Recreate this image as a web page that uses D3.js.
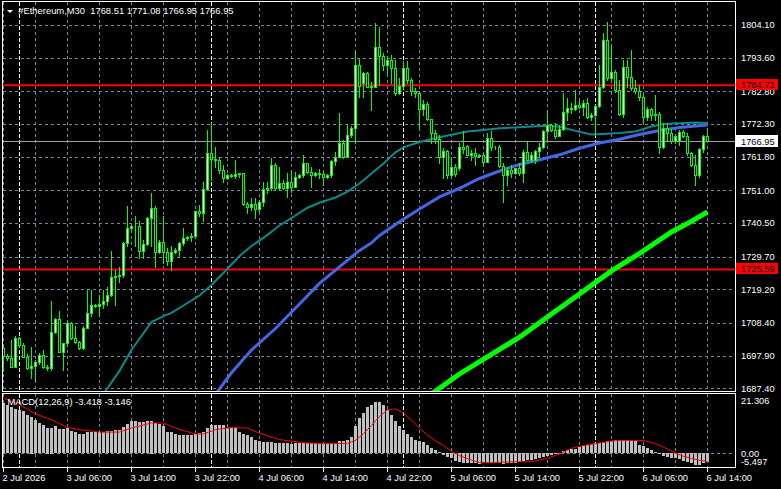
<!DOCTYPE html>
<html>
<head>
<meta charset="utf-8">
<script src="https://cdn.jsdelivr.net/npm/d3@7"></script>
<style>
html, body { margin: 0; padding: 0; background: #000; }
svg { display: block; }
text { font-family: "Liberation Sans", Arial, sans-serif; }
</style>
</head>
<body>
<svg id="chart" width="781" height="489"></svg>
<script>
// bar data, 30 minute bars from 2 Jul 22:00 to 6 Jul 14:00
let opens = [1700.3,1697.8,1697.1,1694.4,1703.5,1701.4,1697.6,1693.9,1694.6,1696.0,1698.1,1694.4,1693.9,1705.6,1709.6,1699.2,1701.9,1708.3,1703.5,1702.4,
  1700.3,1706.9,1711.7,1714.2,1713.9,1714.5,1715.3,1717.4,1723.3,1723.6,1723.8,1734.0,1739.0,1739.4,1739.6,1731.6,1733.8,1742.0,1745.3,1731.1,
  1734.5,1731.1,1728.4,1731.3,1731.9,1734.0,1735.6,1735.9,1736.4,1744.2,1743.6,1751.4,1763.1,1761.0,1760.6,1757.6,1754.9,1756.0,1755.7,1756.3,
  1756.5,1746.6,1745.6,1746.6,1745.0,1747.4,1751.4,1751.7,1759.2,1751.7,1753.5,1751.9,1753.8,1752.2,1755.2,1756.0,1759.7,1757.0,1756.0,1756.7,
  1756.3,1755.4,1756.0,1760.5,1761.8,1766.1,1761.8,1768.8,1771.0,1791.3,1785.4,1788.6,1784.3,1784.3,1797.0,1794.0,1791.3,1792.9,1790.2,1782.2,
  1784.6,1790.2,1786.5,1783.0,1782.2,1777.1,1778.7,1773.8,1769.3,1767.4,1761.8,1763.7,1755.9,1758.6,1758.1,1765.0,1765.2,1762.4,1763.1,1762.0,
  1762.4,1760.2,1767.7,1764.8,1765.0,1758.8,1755.9,1757.6,1756.5,1758.1,1756.7,1763.4,1760.8,1760.8,1763.7,1764.8,1769.9,1772.0,1770.4,1768.5,
  1770.6,1776.3,1777.4,1777.0,1778.4,1777.9,1779.0,1774.5,1775.2,1778.1,1784.1,1799.3,1787.0,1789.1,1783.2,1775.4,1790.7,1787.5,1783.8,1783.0,
  1781.1,1774.7,1777.0,1775.2,1775.5,1765.0,1771.0,1769.3,1766.7,1766.7,1769.6,1768.3,1762.9,1759.2,1755.9,1764.2,1768.51];
let highs = [1700.8,1698.5,1703.0,1704.1,1703.8,1701.9,1698.5,1700.8,1696.6,1698.7,1699.8,1694.9,1715.3,1709.9,1712.1,1702.1,1708.8,1708.8,1707.3,1702.6,
  1707.3,1719.0,1719.0,1714.5,1717.4,1719.0,1720.1,1731.4,1725.5,1726.5,1734.5,1745.8,1739.9,1742.6,1741.0,1735.1,1742.3,1750.1,1745.8,1735.1,
  1742.6,1732.4,1733.0,1732.4,1734.3,1738.8,1736.2,1737.2,1744.4,1746.3,1753.8,1770.4,1772.5,1765.0,1761.8,1759.2,1756.3,1756.3,1760.8,1756.7,
  1756.7,1747.4,1748.5,1748.5,1747.9,1753.8,1753.8,1761.3,1759.7,1758.6,1754.3,1756.5,1757.6,1757.0,1756.3,1762.4,1759.9,1758.6,1757.0,1757.8,
  1757.0,1756.3,1760.8,1763.4,1775.7,1767.2,1772.0,1771.5,1796.1,1793.4,1789.1,1789.1,1785.9,1804.7,1803.6,1795.0,1794.0,1794.5,1792.9,1787.0,
  1792.4,1792.4,1787.0,1783.8,1782.5,1780.0,1779.5,1774.0,1770.4,1768.8,1764.5,1764.0,1761.8,1759.5,1766.1,1769.9,1765.4,1764.0,1764.5,1762.6,
  1762.9,1769.3,1769.9,1765.3,1765.6,1759.7,1758.6,1759.2,1758.3,1759.7,1764.0,1766.6,1763.4,1764.0,1766.1,1770.4,1776.8,1772.3,1772.5,1772.0,
  1782.2,1780.6,1779.0,1783.2,1780.0,1780.0,1780.6,1775.7,1778.4,1791.3,1801.5,1805.2,1797.2,1789.7,1786.5,1792.9,1792.9,1796.1,1786.5,1784.9,
  1781.6,1777.9,1777.4,1781.6,1776.3,1772.5,1772.5,1770.6,1768.8,1770.4,1770.4,1769.3,1763.4,1762.4,1764.5,1768.8,1771.08];
let lows = [1692.8,1696.6,1694.2,1694.2,1700.8,1697.4,1693.6,1690.6,1689.6,1695.3,1693.9,1693.3,1693.3,1705.1,1698.9,1693.3,1701.4,1703.2,1701.9,1699.9,
  1700.0,1706.7,1710.5,1713.4,1710.5,1713.1,1714.2,1716.9,1714.2,1721.7,1723.3,1733.0,1738.3,1733.0,1729.2,1729.2,1733.3,1733.0,1726.5,1730.8,
  1727.6,1727.0,1725.5,1730.8,1729.7,1733.5,1735.1,1734.6,1735.6,1742.6,1741.0,1751.1,1754.3,1758.6,1756.5,1753.8,1754.6,1755.2,1754.9,1755.2,
  1746.3,1743.6,1744.7,1742.0,1744.2,1745.8,1750.1,1751.1,1751.3,1751.1,1751.5,1749.0,1750.6,1752.0,1754.9,1755.4,1756.7,1752.2,1755.6,1754.9,
  1752.7,1754.9,1755.2,1759.2,1761.6,1761.3,1761.6,1768.0,1766.1,1781.1,1781.1,1784.1,1776.8,1784.1,1784.9,1789.7,1788.6,1785.4,1781.6,1781.9,
  1783.8,1785.4,1781.6,1781.1,1770.9,1775.2,1773.5,1766.1,1766.1,1759.7,1754.9,1754.9,1754.9,1755.6,1757.6,1762.9,1762.3,1760.8,1759.2,1761.6,
  1759.2,1760.2,1764.0,1764.3,1758.6,1747.2,1752.7,1755.4,1756.3,1755.9,1753.8,1760.6,1760.2,1759.7,1761.8,1764.6,1767.2,1770.2,1767.7,1768.3,
  1770.4,1773.6,1775.7,1776.8,1777.4,1775.2,1774.1,1773.6,1768.8,1777.7,1783.8,1786.5,1786.5,1782.7,1775.2,1774.7,1784.3,1783.2,1782.2,1780.0,
  1772.5,1773.6,1773.6,1773.6,1762.9,1764.5,1767.2,1766.1,1766.3,1765.6,1768.0,1762.4,1758.9,1752.7,1755.4,1763.4,1766.95];
let closes = [1697.8,1697.1,1694.4,1703.5,1701.4,1697.6,1693.9,1694.6,1696.0,1698.1,1694.4,1693.9,1705.6,1709.6,1699.2,1701.9,1708.3,1703.5,1702.4,1700.3,
  1706.9,1711.7,1714.2,1713.9,1714.5,1715.3,1717.4,1723.3,1723.6,1723.8,1734.0,1739.0,1739.4,1739.6,1731.6,1733.8,1742.0,1745.3,1731.1,1734.5,
  1731.1,1728.4,1731.3,1731.9,1734.0,1735.6,1735.9,1736.4,1744.2,1743.6,1751.4,1763.1,1761.0,1760.6,1757.6,1754.9,1756.0,1755.7,1756.3,1756.5,
  1746.6,1745.6,1746.6,1745.0,1747.4,1751.4,1751.7,1759.2,1751.7,1753.5,1751.9,1753.8,1752.2,1755.2,1756.0,1759.7,1757.0,1756.0,1756.7,1756.3,
  1755.4,1756.0,1760.5,1761.8,1766.1,1761.8,1768.8,1771.0,1791.3,1784.6,1788.6,1784.3,1784.5,1797.0,1794.0,1791.3,1792.9,1790.2,1782.2,1784.6,
  1790.2,1786.5,1783.0,1782.2,1777.1,1778.7,1773.8,1769.3,1767.4,1761.8,1763.7,1755.9,1758.6,1756.3,1765.0,1764.3,1762.4,1763.1,1762.0,1762.4,
  1760.2,1767.7,1764.8,1765.0,1758.8,1755.9,1757.6,1756.5,1758.1,1756.7,1763.4,1760.8,1762.4,1763.7,1764.8,1769.9,1772.0,1770.4,1768.5,1770.6,
  1776.3,1777.4,1777.0,1778.4,1777.9,1779.0,1774.5,1775.2,1778.1,1784.1,1799.3,1787.0,1789.1,1783.2,1775.4,1790.7,1787.5,1783.8,1783.0,1781.1,
  1774.7,1777.0,1775.2,1775.5,1765.0,1771.0,1769.3,1766.7,1768.3,1769.6,1768.3,1762.9,1759.2,1755.9,1764.2,1768.5,1766.95];

// moving averages, read at sample bars
let tealIdx = [25,29,32,37,40,42,46,49,52,56,59,62,66,69,72,76,79,83,86,89,92,95,98,100,103,107,111,116,120,124,128,132,136,139,143,147,150,154,158,162,165,170,173,176];
let tealVal = [1685.6,1693.0,1699.7,1708.7,1710.6,1711.6,1714.8,1717.2,1720.6,1725.8,1729.9,1733.1,1736.7,1739.7,1742.1,1745.4,1747.0,1748.7,1750.6,1753.2,
  1756.4,1759.6,1763.2,1764.8,1766.1,1767.5,1768.6,1769.9,1770.4,1770.9,1771.2,1771.5,1771.7,1771.4,1770.1,1768.9,1769.1,1769.4,1769.9,1771.5,1772.3,1772.6,1772.8,1772.6];
let blueIdx = [53,57,62,68,74,79,84,89,92,94,99,104,109,114,119,124,129,134,139,144,149,154,159,164,169,176];
let blueVal = [1685.5,1692.4,1699.7,1706.6,1714.5,1721.1,1726.4,1731.7,1734.1,1736.5,1740.9,1745.0,1748.9,1751.6,1754.8,1757.2,1759.3,1760.8,1762.4,1764.5,
  1766.2,1767.4,1768.9,1770.2,1771.2,1772.0];
let greenIdx = [107,114,122,129,137,144,152,159,167,172,176];
let greenVal = [1685.6,1692.0,1698.3,1703.8,1711.3,1717.7,1725.1,1730.7,1737.6,1741.0,1744.1];

// MACD(12,26,9)
let macd = [18.6,17.7,17.0,16.5,16.1,15.5,14.0,13.6,12.4,11.2,10.5,9.5,9.5,9.9,9.0,9.0,9.3,8.3,7.8,7.2,
  7.2,7.7,8.0,7.8,7.8,7.8,8.3,8.3,8.7,8.7,9.7,10.9,11.8,12.0,11.5,11.4,11.8,12.1,11.2,10.8,
  9.9,8.0,7.8,7.1,6.8,6.8,6.6,6.6,7.1,7.4,8.0,9.3,10.3,10.5,10.5,10.3,9.5,9.3,9.3,8.0,
  7.1,6.6,5.8,4.95,4.3,4.2,4.0,4.0,3.8,3.9,3.8,3.6,3.5,3.6,3.7,3.9,3.9,3.8,3.6,3.5,
  3.3,3.3,3.4,3.5,4.5,4.3,5.0,6.0,10,13,15,17,18,19,19,18,16,14,12,10,
  8.5,7,6,5,4.5,4,3,2,1,0.3,-0.8,-1.4,-2.0,-2.8,-3.4,-3.8,-3.9,-3.9,-3.9,-4.0,
  -3.9,-3.8,-3.8,-3.9,-3.8,-4.0,-3.9,-3.8,-3.7,-3.5,-3.0,-2.7,-2.5,-2.3,-2.0,-1.5,-1.2,-0.8,-0.4,0.1,
  0.9,1.2,1.4,1.6,2.3,2.7,3.0,3.4,3.6,3.7,4.2,4.4,4.6,4.7,4.7,4.8,4.7,4.6,4.3,3.1,
  2.5,1.8,1.2,0.5,-0.3,-1.2,-1.5,-1.8,-2.0,-2.4,-2.8,-3.3,-3.9,-4.3,-4.3,-3.9,-3.418];
let sigIdx = [0,4,8,12,16,19,24,29,32,37,40,43,48,50,53,57,61,64,69,75,80,86,88,90,92,94,96,98,100,102,104,106,108,110,112,114,117,119,122,126,132,136,139,142,145,148,153,157,160,163,166,168,170,172,174,176];
let sigVal = [20.5,18.0,14.6,12.4,9.5,8.7,7.8,7.8,9.3,11.2,11.2,9.3,7.1,7.1,8.7,9.5,9.3,7.4,5.0,3.8,3.5,3.6,4.7,7.2,10.3,13.6,16.1,16.4,14.9,12.3,
  9.2,6.7,4.5,2.8,0.6,-1.0,-2.6,-3.5,-3.6,-3.3,-3.2,-2.0,-0.3,1.8,2.8,3.5,4.7,4.7,4.7,3.5,1.5,0,-1.2,-2.0,-2.7,-3.146];

// axis labels
let priceTicks = [1804.10,1793.60,1782.80,1772.30,1761.80,1751.00,1740.50,1729.70,1719.20,1708.40,1697.90,1687.40];
let timeIdx = [0,16,32,48,64,80,96,112,128,144,160,176];
let timeLabels = ["2 Jul 2026","3 Jul 06:00","3 Jul 14:00","3 Jul 22:00","4 Jul 06:00","4 Jul 14:00","4 Jul 22:00","5 Jul 06:00","5 Jul 14:00","5 Jul 22:00","6 Jul 06:00","6 Jul 14:00"];
let daySep = [4,52,100,148];
let levels = [1784.71, 1725.59];
let lastPrice = 1766.95;
let macdTickText = ["21.306", "0.00", "-5.497"];

let left = 2, right = 735, mainTop = 1, mainBot = 391, subTop = 393, subBot = 467;

let x = d3.scaleLinear().domain([0, 176]).range([3, 707]);
let y = d3.scaleLinear().domain([1687.40, 1804.10]).range([388.3, 25]);
let ym = d3.scaleLinear().domain([-5.497, 21.306]).range([467.8, 395.8]);

let svg = d3.select("#chart");
svg.append("rect").attr("width", 781).attr("height", 489).attr("fill", "#000");

let defs = svg.append("defs");
defs.append("clipPath").attr("id", "clipMain").append("rect")
    .attr("x", left + 1).attr("y", mainTop + 1).attr("width", right - left - 1).attr("height", mainBot - mainTop - 1);
defs.append("clipPath").attr("id", "clipSub").append("rect")
    .attr("x", left + 1).attr("y", subTop + 1).attr("width", right - left - 1).attr("height", subBot - subTop - 1);

let gridColor = "#778899";

// grid
let grid = svg.append("g").attr("shape-rendering", "crispEdges");
grid.selectAll(".hgrid").data(priceTicks).enter().append("line")
    .attr("x1", left + 1).attr("x2", right)
    .attr("y1", d => Math.round(y(d)) + 0.5).attr("y2", d => Math.round(y(d)) + 0.5)
    .attr("stroke", gridColor).attr("stroke-dasharray", "3,3");

let vIdx = d3.range(0, 177, 8);
[[mainTop, mainBot], [subTop, subBot]].forEach(function(p) {
    grid.selectAll(null).data(vIdx).enter().append("line")
        .attr("x1", d => x(d) + 0.5).attr("x2", d => x(d) + 0.5)
        .attr("y1", p[0] + 1).attr("y2", p[1])
        .attr("stroke", gridColor).attr("stroke-dasharray", "3,3");
    grid.selectAll(null).data(daySep).enter().append("line")
        .attr("x1", d => x(d) + 0.5).attr("x2", d => x(d) + 0.5)
        .attr("y1", p[0] + 1).attr("y2", p[1])
        .attr("stroke", "#fff").attr("stroke-dasharray", "4,2");
});
grid.append("line")
    .attr("x1", left + 1).attr("x2", right)
    .attr("y1", Math.round(ym(0)) + 0.5).attr("y2", Math.round(ym(0)) + 0.5)
    .attr("stroke", gridColor).attr("stroke-dasharray", "3,3");

// main panel content
let main = svg.append("g").attr("clip-path", "url(#clipMain)");

main.selectAll(".level").data(levels).enter().append("line")
    .attr("x1", left).attr("x2", right)
    .attr("y1", d => y(d)).attr("y2", d => y(d))
    .attr("stroke", "#ff0000").attr("stroke-width", 2);

main.append("line")
    .attr("x1", left).attr("x2", right)
    .attr("y1", Math.round(y(lastPrice)) + 0.5).attr("y2", Math.round(y(lastPrice)) + 0.5)
    .attr("stroke", "#a0a0a0").attr("shape-rendering", "crispEdges");

// moving averages
function maLine(idx, val) {
    return d3.line().x((d, i) => x(d) + 0.5).y((d, i) => y(val[i]))(idx);
}
main.append("path").attr("d", maLine(greenIdx, greenVal))
    .attr("fill", "none").attr("stroke", "#00ff00").attr("stroke-width", 5);
main.append("path").attr("d", maLine(tealIdx, tealVal))
    .attr("fill", "none").attr("stroke", "#0a8a8a").attr("stroke-width", 2);
main.append("path").attr("d", maLine(blueIdx, blueVal))
    .attr("fill", "none").attr("stroke", "#4169e1").attr("stroke-width", 3);

// candles
let bars = main.selectAll(".candle").data(d3.range(closes.length)).enter().append("g")
    .attr("shape-rendering", "crispEdges");
bars.append("line")
    .attr("x1", i => x(i) + 0.5).attr("x2", i => x(i) + 0.5)
    .attr("y1", i => Math.round(y(highs[i]))).attr("y2", i => Math.round(y(lows[i])) + 1)
    .attr("stroke", "#00ff00");
bars.append("rect")
    .attr("x", i => x(i) - 0.5)
    .attr("y", i => Math.round(y(Math.max(opens[i], closes[i]))) + 0.5)
    .attr("width", 2)
    .attr("height", i => Math.max(0, Math.round(y(Math.min(opens[i], closes[i]))) - Math.round(y(Math.max(opens[i], closes[i])))))
    .attr("fill", i => closes[i] > opens[i] ? "#ffffff" : "#000000")
    .attr("stroke", "#00ff00");

// MACD panel
let sub = svg.append("g").attr("clip-path", "url(#clipSub)");
sub.selectAll(".hist").data(macd).enter().append("rect")
    .attr("x", (d, i) => x(i) - 1)
    .attr("y", d => Math.round(Math.min(ym(0), ym(d))))
    .attr("width", 3)
    .attr("height", d => Math.max(1, Math.round(Math.abs(ym(d) - ym(0)))))
    .attr("fill", "#c0c0c0").attr("shape-rendering", "crispEdges");
sub.append("path")
    .attr("d", d3.line().x(d => x(d) + 0.5).y((d, i) => ym(sigVal[i]))(sigIdx))
    .attr("fill", "none").attr("stroke", "#ff0000").attr("stroke-width", 1);

// frames
let frames = svg.append("g").attr("shape-rendering", "crispEdges");
[[mainTop, mainBot], [subTop, subBot]].forEach(function(p) {
    frames.append("rect")
        .attr("x", left + 0.5).attr("y", p[0] + 0.5)
        .attr("width", right - left).attr("height", p[1] - p[0])
        .attr("fill", "none").attr("stroke", "#fff");
});

// price axis
let axisFont = "9.3px";
svg.selectAll(".ptick").data(priceTicks).enter().append("text")
    .attr("x", 741).attr("y", d => y(d) + 3.4)
    .attr("fill", "#fff").attr("font-size", axisFont)
    .text(d => d.toFixed(2));

// price tags (they cover the grid label under them, as in the terminal)
svg.selectAll(".tag").data(levels).enter().append("rect")
    .attr("x", 736).attr("y", d => Math.round(y(d)) - 6).attr("width", 42).attr("height", 11)
    .attr("fill", "#ff0000");
svg.selectAll(".tagt").data(levels).enter().append("text")
    .attr("x", 741).attr("y", d => Math.round(y(d)) + 3.4)
    .attr("fill", "#000").attr("font-size", axisFont)
    .text(d => d.toFixed(2));
svg.append("rect")
    .attr("x", 736).attr("y", Math.round(y(lastPrice)) - 6).attr("width", 42).attr("height", 12)
    .attr("fill", "#fff");
svg.append("text")
    .attr("x", 741).attr("y", Math.round(y(lastPrice)) + 3.9)
    .attr("fill", "#000").attr("font-size", axisFont)
    .text(lastPrice.toFixed(2));

// MACD axis
let macdY = [403.5, 456.5, 465.3];
svg.selectAll(".mtick").data(macdTickText).enter().append("text")
    .attr("x", 741).attr("y", (d, i) => macdY[i])
    .attr("fill", "#fff").attr("font-size", axisFont)
    .text(d => d);

// time axis
svg.selectAll(".tmark").data(timeIdx).enter().append("line")
    .attr("x1", d => x(d) + 0.5).attr("x2", d => x(d) + 0.5)
    .attr("y1", subBot + 1).attr("y2", subBot + 5)
    .attr("stroke", "#fff").attr("shape-rendering", "crispEdges");
svg.selectAll(".tlabel").data(timeIdx).enter().append("text")
    .attr("x", d => x(d) - 0.5).attr("y", 480.5)
    .attr("fill", "#fff").attr("font-size", axisFont)
    .text((d, i) => timeLabels[i]);

// titles
svg.append("path").attr("d", "M7,10L13,10L10,13Z").attr("fill", "#fff");
svg.append("text").attr("x", 18.3).attr("y", 13.6)
    .attr("fill", "#fff").attr("font-size", "9.4px")
    .style("white-space", "pre")
    .text("#Ethereum,M30  1768.51 1771.08 1766.95 1766.95");
svg.append("text").attr("x", 7.5).attr("y", 405)
    .attr("fill", "#fff").attr("font-size", "9.4px")
    .style("white-space", "pre")
    .text("MACD(12,26,9) -3.418 -3.146");
</script>
</body>
</html>
